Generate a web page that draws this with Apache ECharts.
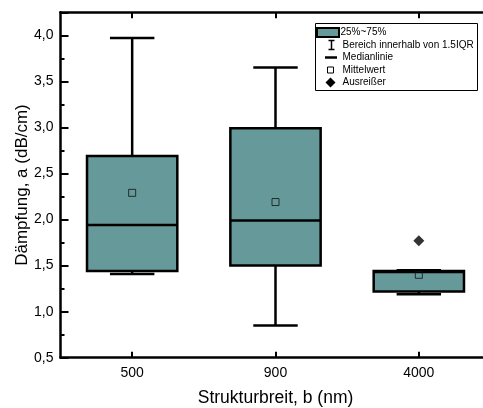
<!DOCTYPE html>
<html>
<head>
<meta charset="utf-8">
<script src="https://cdn.jsdelivr.net/npm/echarts@6/dist/echarts.min.js"></script>
<style>
html,body{margin:0;padding:0;background:#fff;}
#chart{width:483px;height:408px;}
</style>
</head>
<body>
<div id="chart"></div>
<script>
// ---- data ----
var categories = ['500', '900', '4000'];
var q1 = [1.44, 1.50, 1.22];
var median = [1.94, 1.99, 1.43];
var q3 = [2.69, 2.99, 1.44];
var whiskerLow = [1.41, 0.85, 1.19];
var whiskerHigh = [3.97, 3.65, 1.45];
var meanValues = [2.29, 2.19, 1.40];
var outlierCategories = ['4000'];
var outlierValues = [1.77];
var yMin = 0.5, yMax = 4.25, yStep = 0.5, yMinorStep = 0.25;
var legendLabels = ['25%~75%', 'Bereich innerhalb von 1.5IQR', 'Medianlinie', 'Mittelwert', 'Ausreißer'];

var FONT = 'Liberation Sans, Arial, Helvetica, sans-serif';
var TEAL = '#669999';

var boxData = categories.map(function (c, i) {
  return [q1[i], q1[i], median[i], q3[i], q3[i]];
});
var whiskerData = categories.map(function (c, i) {
  return [i, whiskerLow[i], q1[i], q3[i], whiskerHigh[i]];
});
var meanData = categories.map(function (c, i) { return [c, meanValues[i]]; });
var outlierData = outlierCategories.map(function (c, i) { return [c, outlierValues[i]]; });

var chart = echarts.init(document.getElementById('chart'), null, {renderer: 'canvas'});

var axisLineStyle = {color: '#000', width: 2.5};

// legend drawn as graphic (decoration)
var LX = 315.5, LY = 23.5, LW = 162, LH = 67, ROW = 12.5, TX = 342.5;
var legendChildren = [
  {type: 'rect', shape: {x: LX, y: LY, width: LW, height: LH}, style: {fill: '#fff', stroke: '#000', lineWidth: 1}}
];
var rowY = function (k) { return LY + 9 + k * ROW; };
legendChildren.push({type: 'rect', shape: {x: 317, y: rowY(0) - 4.5, width: 22, height: 9}, style: {fill: TEAL, stroke: '#000', lineWidth: 2}});
// I icon
legendChildren.push({type: 'line', shape: {x1: 331.5, y1: rowY(1) - 4.5, x2: 331.5, y2: rowY(1) + 4.5}, style: {stroke: '#000', lineWidth: 1.5}});
legendChildren.push({type: 'line', shape: {x1: 328.5, y1: rowY(1) - 4.5, x2: 334.5, y2: rowY(1) - 4.5}, style: {stroke: '#000', lineWidth: 1.5}});
legendChildren.push({type: 'line', shape: {x1: 328.5, y1: rowY(1) + 4.5, x2: 334.5, y2: rowY(1) + 4.5}, style: {stroke: '#000', lineWidth: 1.5}});
// median dash
legendChildren.push({type: 'line', shape: {x1: 325, y1: rowY(2), x2: 337, y2: rowY(2)}, style: {stroke: '#000', lineWidth: 2.5}});
// mean square
legendChildren.push({type: 'rect', shape: {x: 327.5, y: rowY(3) - 3, width: 6, height: 6}, style: {fill: '#fff', stroke: '#000', lineWidth: 1}});
// diamond
legendChildren.push({type: 'polygon', shape: {points: [[330.5, rowY(4) - 5], [335.5, rowY(4)], [330.5, rowY(4) + 5], [325.5, rowY(4)]]}, style: {fill: '#000'}});
legendLabels.forEach(function (t, k) {
  legendChildren.push({type: 'text', x: k === 0 ? 340.5 : TX, y: rowY(k), style: {text: t, fill: '#000', font: '10px ' + FONT, verticalAlign: 'middle', align: 'left'}});
});

var option = {
  backgroundColor: '#fff',
  animation: false,
  textStyle: {fontFamily: FONT, color: '#000'},
  grid: {left: 60.5, top: 12.3, width: 430, height: 345.4, containLabel: false, outerBoundsMode: 'none'},
  xAxis: [{
    type: 'category',
    data: categories,
    position: 'bottom',
    boundaryGap: true,
    axisLine: {show: true, lineStyle: axisLineStyle},
    axisTick: {show: true, inside: true, alignWithLabel: true, length: 6, lineStyle: {color: '#000', width: 2}},
    axisLabel: {show: true, fontSize: 14, margin: 8, color: '#000', fontFamily: FONT},
    splitLine: {show: false},
    name: 'Strukturbreit, b (nm)',
    nameLocation: 'middle',
    nameGap: 31,
    nameMoveOverlap: false,
    nameTextStyle: {fontSize: 17.5, color: '#000', fontFamily: FONT}
  }, {
    type: 'category',
    data: categories,
    position: 'top',
    boundaryGap: true,
    axisLine: {show: true, lineStyle: axisLineStyle},
    axisTick: {show: true, inside: true, alignWithLabel: true, length: 6, lineStyle: {color: '#000', width: 2}},
    axisLabel: {show: false},
    splitLine: {show: false}
  }],
  yAxis: [{
    type: 'value',
    min: yMin,
    max: yMax,
    interval: yStep,
    axisLine: {show: true, lineStyle: axisLineStyle},
    axisTick: {show: true, inside: true, length: 8, lineStyle: {color: '#000', width: 2}},
    minorTick: {show: false},
    axisLabel: {
      show: true, fontSize: 14, margin: 7, color: '#000', fontFamily: FONT,
      formatter: function (v) {
        if (Math.abs(v / yStep - Math.round(v / yStep)) > 1e-6) return '';
        return v.toFixed(1).replace('.', ',');
      }
    },
    splitLine: {show: false},
    name: 'Dämpfung, a (dB/cm)',
    nameLocation: 'middle',
    nameGap: 30,
    nameMoveOverlap: false,
    nameTextStyle: {fontSize: 17, color: '#000', fontFamily: FONT}
  }, {
    // minor ticks only
    type: 'value',
    position: 'left',
    min: yMin,
    max: yMax,
    interval: yMinorStep,
    axisLine: {show: false},
    axisTick: {show: true, inside: true, length: 4, lineStyle: {color: '#000', width: 2}},
    axisLabel: {show: false},
    splitLine: {show: false}
  }],
  series: [{
    name: 'Bereich innerhalb von 1.5IQR',
    type: 'custom',
    z: 1,
    data: whiskerData,
    encode: {x: 0, y: [1, 2, 3, 4]},
    renderItem: function (params, api) {
      var idx = api.value(0);
      var band = api.size([1, 0])[0];
      var half = band * 0.155;
      var pLow = api.coord([idx, api.value(1)]);
      var pQ1 = api.coord([idx, api.value(2)]);
      var pQ3 = api.coord([idx, api.value(3)]);
      var pHigh = api.coord([idx, api.value(4)]);
      var st = {stroke: '#000', lineWidth: 2.5};
      return {
        type: 'group',
        children: [
          {type: 'line', shape: {x1: pLow[0], y1: pLow[1], x2: pQ1[0], y2: pQ1[1]}, style: st},
          {type: 'line', shape: {x1: pQ3[0], y1: pQ3[1], x2: pHigh[0], y2: pHigh[1]}, style: st},
          {type: 'line', shape: {x1: pLow[0] - half, y1: pLow[1], x2: pLow[0] + half, y2: pLow[1]}, style: st},
          {type: 'line', shape: {x1: pHigh[0] - half, y1: pHigh[1], x2: pHigh[0] + half, y2: pHigh[1]}, style: st}
        ]
      };
    }
  }, {
    name: '25%~75%',
    type: 'boxplot',
    z: 2,
    data: boxData,
    boxWidth: ['63%', '63%'],
    itemStyle: {color: TEAL, borderColor: '#000', borderWidth: 2.5},
    emphasis: {disabled: true}
  }, {
    name: 'Mittelwert',
    type: 'scatter',
    z: 3,
    data: meanData,
    symbol: 'rect',
    symbolSize: 7,
    itemStyle: {color: 'rgba(0,0,0,0)', borderColor: '#111', borderWidth: 1}
  }, {
    name: 'Ausreißer',
    type: 'scatter',
    z: 3,
    data: outlierData,
    symbol: 'diamond',
    symbolSize: [11, 11],
    itemStyle: {color: '#000'}
  }],
  graphic: [{type: 'group', z: 100, children: legendChildren}]
};
chart.setOption(option);
</script>
</body>
</html>
